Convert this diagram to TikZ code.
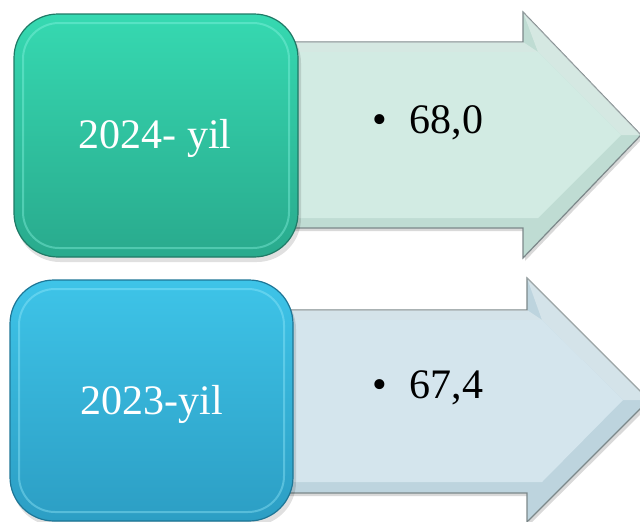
\documentclass[tikz,border=0pt]{standalone}
\usepackage{fontspec}
\setmainfont{Liberation Serif}
\definecolor{tealT}{HTML}{36D9B1}
\definecolor{tealB}{HTML}{29AA8D}
\definecolor{tealD}{HTML}{1F7A66}
\definecolor{tealL}{HTML}{8AF5E2}
\definecolor{blueT}{HTML}{3EC4E8}
\definecolor{blueB}{HTML}{2C9EC4}
\definecolor{blueD}{HTML}{1E7696}
\definecolor{blueL}{HTML}{96EAFB}
\definecolor{arrAmain}{HTML}{D2EBE3}
\definecolor{arrAbev}{HTML}{BFDCD3}
\definecolor{arrBmain}{HTML}{D4E5ED}
\definecolor{arrBbev}{HTML}{BDD4DE}
\definecolor{arrline}{HTML}{7C888A}
\tikzset{
  arrowout/.style={draw=arrline, line width=1.2pt, line join=miter},
  sqshadow/.style={fill=black, opacity=0.12, rounded corners=44pt},
  sqedge/.style={line width=2pt, opacity=0.4, rounded corners=36pt},
  lbl/.style={text=white, inner sep=0pt, font=\fontsize{42}{50}\selectfont},
  val/.style={text=black, inner sep=0pt, anchor=base west, font=\fontsize{42}{50}\selectfont},
  facet/.style={fill=white, opacity=0.35}
}
\begin{document}
\begin{tikzpicture}[x=1pt,y=-1pt]
\useasboundingbox (0,0) rectangle (640,522);
% ---------- top arrow ----------
\fill[black, opacity=0.15] (290,45) -- (525,45) -- (525,15) -- (643,138) -- (525,261) -- (525,231) -- (290,231) -- cycle;
\path[arrowout, fill=arrAbev] (288,42) -- (523,42) -- (523,12) -- (641,135) -- (523,258) -- (523,228) -- (288,228) -- cycle;
\fill[facet] (288,42) -- (523,42) -- (538,52) -- (288,52) -- cycle;
\fill[facet] (523,12) -- (641,135) -- (621,135) -- (538,52) -- cycle;
\fill[arrAmain] (288,52) -- (538,52) -- (621,135) -- (538,218) -- (288,218) -- cycle;
\node[val] (v2024) at (372,133) {\textbullet\hspace{23pt}68,0};
% ---------- bottom arrow ----------
\fill[black, opacity=0.15] (287,313) -- (529,313) -- (529,281) -- (652,403) -- (529,525) -- (529,496) -- (287,496) -- cycle;
\path[arrowout, fill=arrBbev] (285,310) -- (527,310) -- (527,278) -- (649,400) -- (527,522) -- (527,493) -- (285,493) -- cycle;
\fill[facet] (285,310) -- (527,310) -- (542,320) -- (285,320) -- cycle;
\fill[facet] (527,278) -- (649,400) -- (623,400) -- (542,320) -- cycle;
\fill[arrBmain] (285,320) -- (542,320) -- (623,400) -- (542,482) -- (285,482) -- cycle;
\node[val] (v2023) at (372,398) {\textbullet\hspace{23pt}67,4};
% ---------- top square ----------
\fill[sqshadow] (16,19) rectangle (301,262);
\shadedraw[top color=tealT, bottom color=tealB, draw=tealD, line width=1.2pt, rounded corners=44pt] (14,14) rectangle (298,257);
\draw[sqedge, draw=tealL] (23,23) rectangle (289,248);
\node[lbl] (y2024) at (155,138) {2024- yil};
% ---------- bottom square ----------
\fill[sqshadow] (12,285) rectangle (296,526);
\shadedraw[top color=blueT, bottom color=blueB, draw=blueD, line width=1.2pt, rounded corners=44pt] (10,280) rectangle (293,521);
\draw[sqedge, draw=blueL] (19,289) rectangle (284,512);
\node[lbl] (y2023) at (152,404) {2023-yil};
\end{tikzpicture}
\end{document}
